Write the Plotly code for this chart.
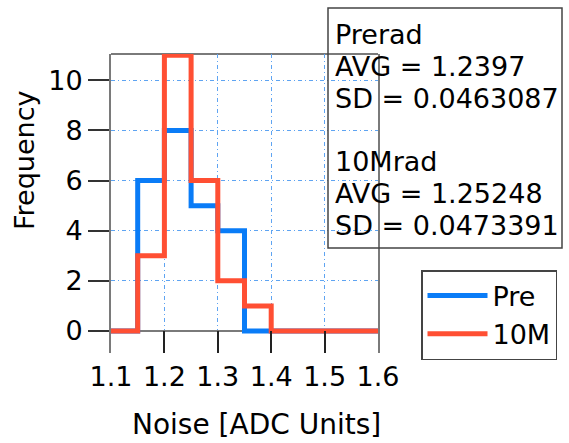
import plotly.graph_objects as go

# ---- data ----
bin_edges = [1.10, 1.15, 1.20, 1.25, 1.30, 1.35, 1.40, 1.45, 1.50, 1.55, 1.60]
pre_counts = [0, 6, 8, 5, 4, 0, 0, 0, 0, 0]
post_counts = [0, 3, 11, 6, 2, 1, 0, 0, 0, 0]
series_names = ["Pre", "10M"]
x_ticks = [1.1, 1.2, 1.3, 1.4, 1.5, 1.6]
y_ticks = [0, 2, 4, 6, 8, 10]
stats_lines = ["Prerad", "AVG = 1.2397", "SD = 0.0463087",
               "10Mrad", "AVG = 1.25248", "SD = 0.0473391"]

BLUE = "#0a7cf7"
RED = "#ff4f33"
GRID = "#5ea4f2"
FRAME = "#7a7a7a"
FONT = "DejaVu Sans, sans-serif"

W, H = 569, 443
L, R, T, B = 111, 378, 54, 353  # plot area in pixels


def px(x):
    return (x - L) / (R - L)


def py(y):
    return (B - y) / (B - T)


def step_xy(edges, counts):
    return list(edges), list(counts) + [counts[-1]]


fig = go.Figure()
for name, counts, color in [(series_names[0], pre_counts, BLUE),
                            (series_names[1], post_counts, RED)]:
    xs, ys = step_xy(bin_edges, counts)
    fig.add_trace(go.Scatter(x=xs, y=ys, mode="lines", name=name,
                             line=dict(color=color, width=5, shape="hv")))

fig.update_layout(
    width=W, height=H,
    margin=dict(l=L, r=W - R, t=T, b=H - B, autoexpand=False),
    paper_bgcolor="white", plot_bgcolor="white",
    font=dict(family=FONT, size=27, color="black"),
    showlegend=True,
    legend=dict(x=px(421), y=py(270), xanchor="left", yanchor="top",
                bordercolor="#444", borderwidth=1.5, bgcolor="white",
                font=dict(size=27), tracegroupgap=0, itemwidth=60),
    xaxis=dict(range=[1.1, 1.6], tickvals=x_ticks,
               ticktext=[f"{v:.1f}" for v in x_ticks],
               ticks="inside", ticklen=22, tickwidth=1.5, tickcolor="#222",
               showline=False, zeroline=False,
               showgrid=True, gridcolor=GRID, gridwidth=1,
               griddash="4px,3px,1px,3px",
               ticklabelstandoff=5, tickfont=dict(size=27)),
    yaxis=dict(range=[-0.88, 11.05], tickvals=y_ticks,
               ticks="outside", ticklen=21, tickwidth=1.5, tickcolor="#333",
               showline=True, linecolor=FRAME, linewidth=2, mirror=True,
               zeroline=True, zerolinecolor=FRAME, zerolinewidth=2,
               showgrid=True, gridcolor=GRID, gridwidth=1,
               griddash="4px,3px,1px,3px", tickfont=dict(size=27)),
)

# top frame line
fig.add_shape(type="line", xref="paper", yref="paper", x0=0, x1=1, y0=1, y1=1,
              line=dict(color=FRAME, width=2), layer="below")

# stats box
fig.add_shape(type="rect", xref="paper", yref="paper",
              x0=px(328), x1=px(562), y0=py(248), y1=py(8),
              line=dict(color="#444", width=1.5), layer="above")
line_centers = [32, 64, 96, 159, 191, 223]
for txt, yc in zip(stats_lines, line_centers):
    fig.add_annotation(text=txt, xref="paper", yref="paper",
                       x=px(333), y=py(yc + 2), xanchor="left", yanchor="middle",
                       showarrow=False, font=dict(size=27))

# axis titles
fig.add_annotation(text="Frequency", xref="paper", yref="paper",
                   x=px(24), y=py(160), textangle=-90,
                   xanchor="center", yanchor="middle", showarrow=False,
                   font=dict(size=27))
fig.add_annotation(text="Noise [ADC Units]", xref="paper", yref="paper",
                   x=px(256), y=py(424), xanchor="center", yanchor="middle",
                   showarrow=False, font=dict(size=28))

fig.write_html("out.html")
